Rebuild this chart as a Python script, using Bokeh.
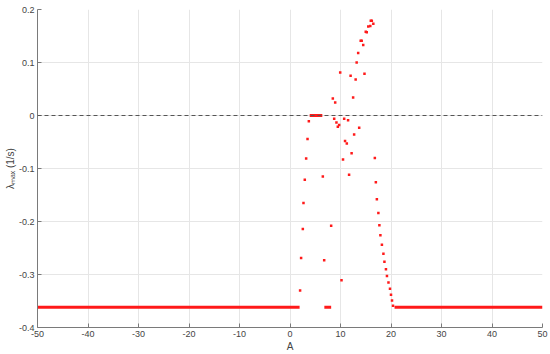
from bokeh.plotting import figure
from bokeh.models import Range1d, FixedTicker, Span, ColumnDataSource
from bokeh.embed import file_html
from bokeh.resources import INLINE

# scattered eigenvalue points (A, lambda_max)
pts_x = [16.0, 16.2, 15.5, 15.9, 16.5, 15.0, 15.2, 14.0, 14.2, 14.5, 13.5, 13.2,
         9.94, 12.0, 13.0, 14.75, 8.48, 8.95, 12.5,
         8.75, 10.73, 11.5, 9.2, 9.74, 9.47, 3.73, 13.7, 12.7, 3.47, 10.9, 11.25,
         12.2, 3.2, 10.5, 16.8, 2.93, 6.5, 11.7, 17.0, 2.67, 17.2, 17.5,
         8.15, 2.54, 17.7, 17.9, 18.2, 18.5, 2.2, 6.77, 18.7, 19.0, 19.2, 10.2,
         19.5, 19.8, 2.0, 20.0, 20.2, 20.4]
pts_y = [0.179, 0.179, 0.168, 0.169, 0.173, 0.158, 0.157, 0.141, 0.141, 0.133, 0.118, 0.100,
         0.081, 0.075, 0.068, 0.079, 0.032, 0.0245, 0.034,
         -0.006, -0.006, -0.009, -0.013, -0.018, -0.021, -0.011, -0.023, -0.036, -0.0445, -0.048, -0.053,
         -0.071, -0.081, -0.083, -0.080, -0.121, -0.115, -0.112, -0.126, -0.165, -0.158, -0.184,
         -0.208, -0.214, -0.207, -0.226, -0.244, -0.261, -0.269, -0.273, -0.276, -0.290, -0.303, -0.311,
         -0.315, -0.327, -0.330, -0.338, -0.349, -0.359]

# densely sampled runs of constant lambda_max
run_x0 = [-50.0, 6.8, 20.7, 3.9]
run_x1 = [1.9, 8.15, 50.0, 6.4]
run_y = [-0.362, -0.362, -0.362, 0.0]

x_ticks = [-50, -40, -30, -20, -10, 0, 10, 20, 30, 40, 50]
y_ticks = [-0.4, -0.3, -0.2, -0.1, 0.0, 0.1, 0.2]

p = figure(width=550, height=354, output_backend="svg", toolbar_location=None,
           x_range=Range1d(-50, 50), y_range=Range1d(-0.4, 0.2),
           min_border_left=37, min_border_right=8, min_border_top=9, min_border_bottom=26)
p.outline_line_color = None
p.background_fill_color = "white"

for ax in (p.xaxis[0], p.yaxis[0]):
    ax.axis_line_color = "#7a7a7a"
    ax.major_tick_line_color = "#7a7a7a"
    ax.major_tick_in = 4
    ax.major_tick_out = 0
    ax.minor_tick_line_color = None
    ax.major_label_text_font = "Liberation Sans"
    ax.major_label_text_font_size = "9px"
    ax.major_label_text_color = "#444444"
    ax.axis_label_text_font = "Liberation Sans"
    ax.axis_label_text_font_size = "10px"
    ax.axis_label_text_color = "#444444"
    ax.axis_label_text_font_style = "normal"
    ax.major_label_standoff = 3
    ax.axis_label_standoff = 1

p.yaxis[0].major_label_standoff = 3
p.yaxis[0].axis_label_standoff = 0

p.xaxis.ticker = FixedTicker(ticks=x_ticks)
p.yaxis.ticker = FixedTicker(ticks=y_ticks)
p.yaxis.major_label_overrides = {0.0: "0", -0.4: "-0.4", -0.3: "-0.3", -0.2: "-0.2",
                                 -0.1: "-0.1", 0.1: "0.1", 0.2: "0.2"}
p.xaxis.major_label_overrides = {t: str(t) for t in x_ticks}
p.xaxis.axis_label = "A"
p.yaxis.axis_label = "λₘₐₓ (1/s)"

p.xgrid.grid_line_color = "#e6e6e6"
p.ygrid.grid_line_color = "#e6e6e6"

p.add_layout(Span(location=0, dimension="width", line_color="#555555",
                  line_dash="4 3", line_width=1))

runs = ColumnDataSource(dict(x0=run_x0, x1=run_x1, y=run_y))
p.segment(x0="x0", y0="y", x1="x1", y1="y", source=runs,
          line_color="#ff1a1a", line_width=3)

pts = ColumnDataSource(dict(x=pts_x, y=pts_y))
p.scatter(x="x", y="y", source=pts, marker="square", size=2.5,
          fill_color="#ff1a1a", line_color=None)

open("out.html", "w").write(file_html(p, INLINE))
